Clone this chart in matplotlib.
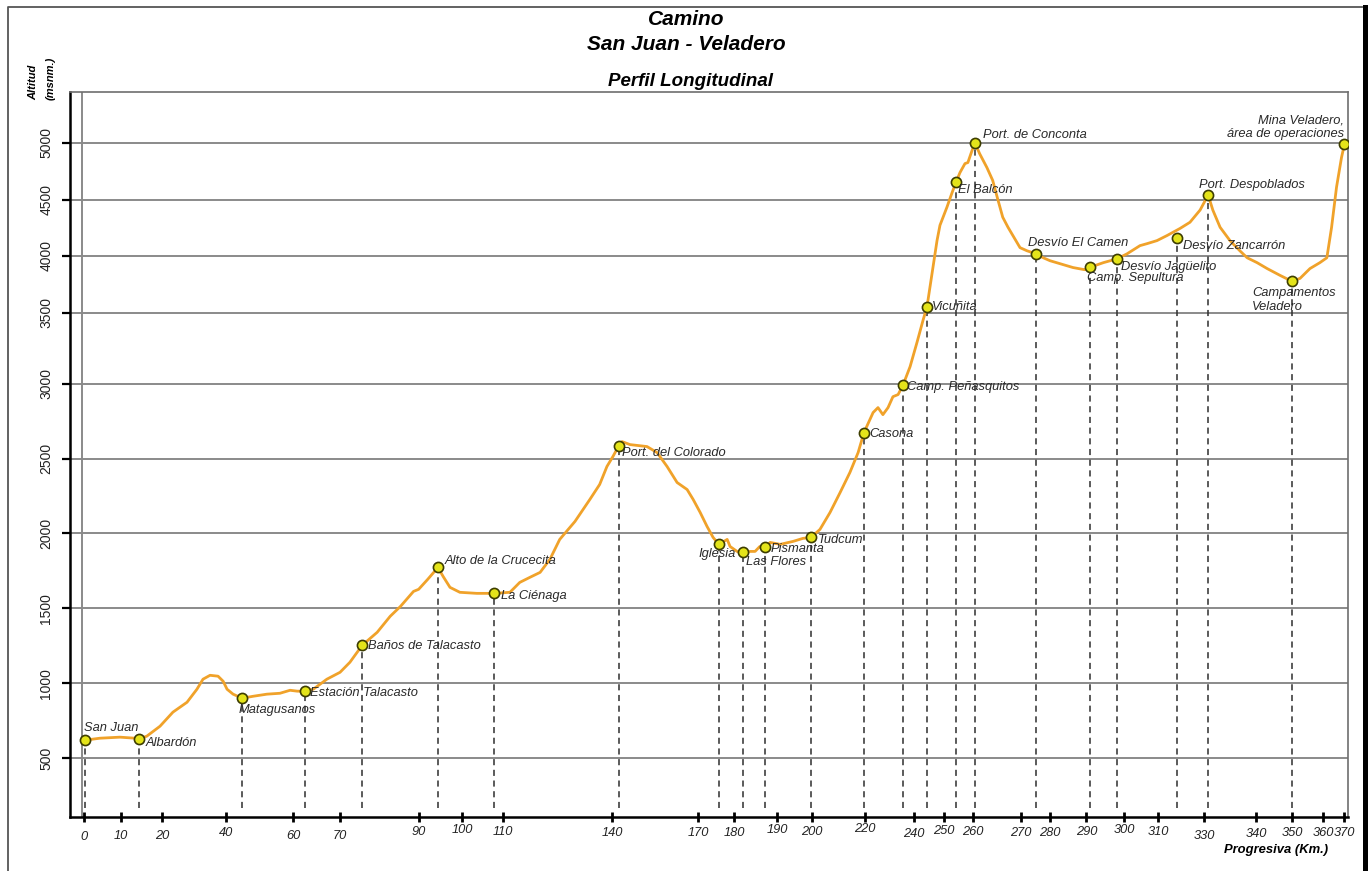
import matplotlib
matplotlib.use('Agg')
import matplotlib.pyplot as plt
import matplotlib.transforms as mtransforms
from matplotlib.lines import Line2D
import numpy as np

plt.rcParams['font.family'] = ['Liberation Sans', 'DejaVu Sans']

# perfil del camino: progresiva (km) y altitud (msnm)
perfil_km = [0.3, 4.3, 9.7, 13.4, 14.4, 16.3, 19.5, 23.4, 27.8, 30.9, 32.8, 35.0, 37.5, 39.1,
             40.3, 42.1, 44.8, 48.1, 52.2, 56.1, 59.1, 60.9, 62.6, 64.3, 67.2, 70.0, 72.5,
             75.6, 79.4, 82.7, 85.3, 88.6, 89.9, 92.0, 94.4, 95.6, 97.2, 99.5, 103.6, 107.9,
             111.9, 114.6, 117.4, 120.2, 122.9, 125.6, 129.8, 133.9, 136.6, 138.6, 140.3,
             142.4, 143.5, 146.3, 152.2, 155.7, 159.2, 162.7, 166.2, 168.3, 170.6, 172.5,
             174.2, 175.8, 178.1, 178.9, 180.7, 182.1, 183.7, 184.9, 186.0, 187.2, 188.4,
             190.9, 194.6, 197.4, 199.7, 203.0, 206.8, 210.6, 214.3, 217.4, 219.6, 222.0,
             223.3, 225.3, 227.3, 229.4, 231.4, 233.5, 235.5, 238.4, 241.0, 243.1, 244.4,
             246.4, 247.8, 248.8, 251.2, 252.9, 254.3, 255.7, 257.4, 258.4, 259.8, 260.5,
             261.5, 263.0, 264.2, 265.3, 266.3, 267.4, 268.4, 269.9, 272.2, 275.3, 277.7,
             280.0, 282.7, 286.3, 289.5, 291.0, 294.5, 298.2, 300.9, 304.7, 306.8, 309.7,
             314.0, 319.6, 323.9, 328.3, 330.8, 331.7, 333.1, 335.0, 336.9, 338.3, 340.3,
             343.1, 346.7, 350.0, 352.6, 355.8, 359.0, 361.8, 364.0, 366.3, 368.6, 370.0]
perfil_alt = [620, 633, 640, 633, 627, 647, 713, 807, 873, 960, 1027, 1053, 1047, 1013,
              960, 927, 900, 913, 927, 933, 953, 947, 947, 960, 1027, 1073, 1140,
              1253, 1340, 1447, 1513, 1613, 1627, 1693, 1773, 1713, 1640, 1607, 1600, 1600,
              1607, 1673, 1707, 1740, 1827, 1960, 2080, 2227, 2327, 2447, 2513,
              2587, 2613, 2593, 2580, 2540, 2447, 2340, 2293, 2227, 2140, 2047,
              1973, 1927, 1960, 1913, 1880, 1873, 1880, 1880, 1913, 1907, 1940,
              1927, 1947, 1967, 1973, 2027, 2140, 2273, 2407, 2540, 2673, 2760,
              2807, 2840, 2793, 2840, 2913, 2927, 2990, 3120, 3290, 3450, 3552,
              3897, 4136, 4273, 4436, 4560, 4655, 4741, 4819, 4828, 4931, 5000,
              4905, 4784, 4672, 4500, 4345, 4255, 4182, 4073, 4045, 4018, 3983,
              3957, 3931, 3897, 3878, 3900, 3940, 3974, 4018, 4091, 4109, 4136,
              4182, 4245, 4300, 4409, 4543, 4409, 4255, 4136, 4045, 3983, 3940,
              3888, 3828, 3776, 3802, 3888, 3940, 3983, 4255, 4612, 4871, 4990]

# puntos del camino
puntos = ["San Juan", "Albardón", "Matagusanos", "Estación Talacasto", "Baños de Talacasto",
          "Alto de la Crucecita", "La Ciénaga", "Port. del Colorado", "Iglesia", "Las Flores",
          "Pismanta", "Tudcum", "Casona", "Camp. Peñasquitos", "Vicuñita", "El Balcón",
          "Port. de Conconta", "Desvío El Camen", "Camp. Sepultura", "Desvío Jagüelito",
          "Desvío Zancarrón", "Port. Despoblados", "Campamentos\nVeladero",
          "Mina Veladero,\nárea de operaciones"]
puntos_km = [0.3, 14.4, 44.8, 62.6, 75.6, 94.4, 107.9, 142.4, 175.8, 182.1, 187.2, 199.7,
             219.6, 235.5, 244.4, 254.3, 260.5, 275.3, 291.0, 298.2, 318.3, 330.8, 350.0, 370.0]
puntos_alt = [620, 627, 900, 947, 1253, 1773, 1600, 2587, 1927, 1873, 1907, 1973,
              2673, 2990, 3552, 4655, 5000, 4018, 3905, 3974, 4155, 4543, 3776, 4990]

x_ticks = [0, 10, 20, 40, 60, 70, 90, 100, 110, 140, 170, 180, 190, 200, 220, 240, 250,
           260, 270, 280, 290, 300, 310, 330, 340, 350, 360, 370]
y_ticks = [500, 1000, 1500, 2000, 2500, 3000, 3500, 4000, 4500, 5000]

# el dibujo original no esta a escala: escala por tramos leida de los ejes
escala_x_km = [-10] + x_ticks + [380]
escala_x_pos = [47, 84, 121, 162, 226, 293, 340, 419, 462, 503, 612, 698, 734, 777, 812,
                865, 914, 943.5, 972.5, 1020.5, 1050, 1086.5, 1124, 1158, 1204, 1256,
                1292, 1323, 1344.5, 1366.5]
escala_y_alt = [-500] + y_ticks + [6000]
escala_y_pos = [-92, 58, 133, 208, 283, 358, 433, 504, 561, 617, 674, 790]

# (dx, dy, ha) en pixeles para cada etiqueta
etiquetas_pos = [(-1, 12, 'left'), (7, -4, 'left'), (-4, -12, 'left'), (5, -2, 'left'),
                 (6, -1, 'left'), (7, 6, 'left'), (7, -3, 'left'), (3, -7, 'left'),
                 (17, -10, 'right'), (3, -10, 'left'), (6, -2, 'left'), (7, -3, 'left'),
                 (5, -1, 'left'), (4, -2, 'left'), (5, 0, 'left'), (2, -8, 'left'),
                 (8, 8, 'left'), (-8, 11, 'left'), (-3, -11, 'left'), (4, -8, 'left'),
                 (6, -8, 'left'), (-9, 10, 'left'), (-40, -19, 'left'), (0, 17, 'right')]
desfase_etiquetas_x = [-4, -3, -3.5, 0, -3, -3.5, 1, 2.5, 1, 0, 0, 0, 2.5, 1, 4, -1, 2, 1,
                       0, 0, 1, 3, 1, -3, -1, 0, 0, 0]

naranja = '#F0A22A'
gris = '#8a8a8a'

fig = plt.figure(figsize=(13.72, 8.71), dpi=100)
ax = fig.add_axes([0.05102, 0.0620, 0.93149, 0.83237])


def fwd_x(v):
    return np.interp(v, escala_x_km, escala_x_pos)


def inv_x(p):
    return np.interp(p, escala_x_pos, escala_x_km)


def fwd_y(v):
    return np.interp(v, escala_y_alt, escala_y_pos)


def inv_y(p):
    return np.interp(p, escala_y_pos, escala_y_alt)


ax.set_xscale('function', functions=(fwd_x, inv_x))
ax.set_yscale('function', functions=(fwd_y, inv_y))
ax.set_xlim(-3.8, 371.6)
ax.set_ylim(107, 5440)

ax.set_yticks(y_ticks)
ax.set_xticks(x_ticks)
ax.set_xticklabels([str(t) for t in x_ticks])
ax.set_yticklabels([str(t) for t in y_ticks])
ax.minorticks_off()
ax.yaxis.grid(True, color=gris, lw=1.4)
ax.set_axisbelow(True)
ax.axvline(-0.5, color=gris, lw=1.4, zorder=1)

for s in ['left', 'bottom']:
    ax.spines[s].set_color('black')
    ax.spines[s].set_linewidth(1.8)
for s in ['top', 'right']:
    ax.spines[s].set_color('#6e6e6e')
    ax.spines[s].set_linewidth(1.2)

ax.tick_params(axis='y', direction='out', length=6, width=1.6, pad=6,
               labelsize=10, labelrotation=90, colors='black', labelcolor='#222222')
ax.tick_params(axis='x', direction='inout', length=7, width=2, pad=3.5,
               labelsize=9.3, colors='black', labelcolor='#222222')
for lab in ax.get_yticklabels():
    lab.set_va('center')
for lab, dy in zip(ax.get_xticklabels(), desfase_etiquetas_x):
    lab.set_fontstyle('italic')
    lab.set_transform(lab.get_transform() +
                      mtransforms.ScaledTranslation(0, dy / 100, fig.dpi_scale_trans))

# lineas de referencia
ax.vlines(puntos_km[:-1], 170, puntos_alt[:-1], colors='#2e2e2e', linestyles=(0, (4, 3)),
          lw=1.1, zorder=2)

ax.plot(perfil_km, perfil_alt, color=naranja, lw=2.0, zorder=3, solid_joinstyle='round')
ax.plot(puntos_km, puntos_alt, 'o', ms=7.3, mfc='#E4E41A', mec='#3d3d00', mew=1.2, zorder=4)

for nombre, km, alt, (dx, dy, ha) in zip(puntos, puntos_km, puntos_alt, etiquetas_pos):
    ax.annotate(nombre, (km, alt), xytext=(dx, dy), textcoords='offset pixels',
                ha=ha, va='center', fontsize=9.3, style='italic', color='#2a2a2a',
                multialignment=ha, zorder=5)

# titulos
fig.text(0.4999, 0.9780, 'Camino', ha='center', va='center', fontsize=15,
         weight='bold', style='italic')
fig.text(0.4999, 0.9490, 'San Juan - Veladero', ha='center', va='center', fontsize=15,
         weight='bold', style='italic')
fig.text(0.5036, 0.9060, 'Perfil Longitudinal', ha='center', va='center', fontsize=13.5,
         weight='bold', style='italic')
fig.text(0.9679, 0.0240, 'Progresiva (Km.)', ha='right', va='center', fontsize=9.4,
         weight='bold', style='italic')
fig.text(0.0240, 0.8852, 'Altitud', ha='center', va='bottom', rotation=90, fontsize=8,
         weight='bold', style='italic')
fig.text(0.0368, 0.8852, '(msnm.)', ha='center', va='bottom', rotation=90, fontsize=8,
         weight='bold', style='italic')

# marco exterior
fig.add_artist(Line2D([0.0058, 0.0058, 0.9927], [0.0, 0.9914, 0.9914],
                      transform=fig.transFigure, color='#555555', lw=1.3))
fig.add_artist(Line2D([0.9951, 0.9951], [0.0, 0.9920], transform=fig.transFigure,
                      color='black', lw=3.6))

fig.savefig('out.png', dpi=100)
